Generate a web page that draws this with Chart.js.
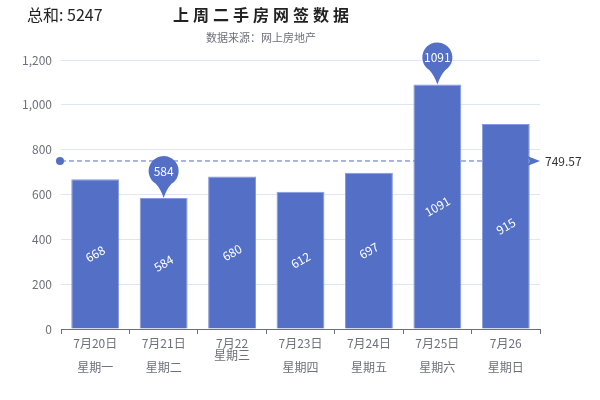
<!DOCTYPE html>
<html>
<head>
<meta charset="utf-8">
<script src="https://cdn.jsdelivr.net/npm/chart.js@4/dist/chart.umd.min.js"></script>
<style>
  html, body { margin: 0; padding: 0; background: #fff; }
  #wrap { width: 600px; height: 400px; }
</style>
</head>
<body>
<div id="wrap"><canvas id="chart"></canvas></div>
<script>
// data
const tickLabels = [
  '7月20日\n\n星期一',
  '7月21日\n\n星期二',
  '7月22\n星期三',
  '7月23日\n\n星期四',
  '7月24日\n\n星期五',
  '7月25日\n\n星期六',
  '7月26\n\n星期日',
];
const deals = [668, 584, 680, 612, 697, 1091, 915];
const yTicks = [0, 200, 400, 600, 800, 1000, 1200];

const FONT = '"Noto Sans CJK SC", "Noto Sans", sans-serif';
const BLUE = '#5470c6';

const total = deals.reduce((a, b) => a + b, 0);
const average = total / deals.length;

// titles, pins and the average line
const extras = {
  id: 'extras',
  beforeDatasetsDraw(chart) {
    const { ctx, chartArea } = chart;
    const y = chart.scales.y.getPixelForValue(average);
    ctx.save();
    ctx.strokeStyle = BLUE;
    ctx.lineWidth = 1;
    ctx.setLineDash([5, 3]);
    ctx.beginPath();
    ctx.moveTo(chartArea.left, y);
    ctx.lineTo(chartArea.right - 10, y);
    ctx.stroke();
    ctx.restore();
  },
  afterDatasetsDraw(chart) {
    const { ctx, chartArea } = chart;
    const meta = chart.getDatasetMeta(0);

    // rotated value labels inside bars
    ctx.save();
    ctx.fillStyle = '#fff';
    ctx.font = '12px ' + FONT;
    ctx.textAlign = 'center';
    ctx.textBaseline = 'middle';
    meta.data.forEach((bar, i) => {
      const cy = (bar.y + bar.base) / 2;
      ctx.save();
      ctx.translate(bar.x, cy);
      ctx.rotate(-Math.PI / 6);
      ctx.fillText(String(deals[i]), 0, 0);
      ctx.restore();
    });
    ctx.restore();

    // max / min pins
    const maxIdx = deals.indexOf(Math.max(...deals));
    const minIdx = deals.indexOf(Math.min(...deals));
    [maxIdx, minIdx].forEach((i) => {
      const bar = meta.data[i];
      const x = bar.x, tip = bar.y;
      const r = 15, cy = tip - 27;
      const a = 0.55;
      ctx.save();
      ctx.fillStyle = BLUE;
      ctx.beginPath();
      ctx.arc(x, cy, r, Math.PI / 2 + a, Math.PI / 2 - a + Math.PI * 2, false);
      ctx.quadraticCurveTo(x + 3, cy + r + 3, x, tip);
      ctx.quadraticCurveTo(x - 3, cy + r + 3, x - r * Math.sin(a), cy + r * Math.cos(a));
      ctx.closePath();
      ctx.fill();
      ctx.fillStyle = '#fff';
      ctx.font = '12px ' + FONT;
      ctx.textAlign = 'center';
      ctx.textBaseline = 'middle';
      ctx.fillText(String(deals[i]), x, cy);
      ctx.restore();
    });

    // average line ends
    const y = chart.scales.y.getPixelForValue(average);
    ctx.save();
    ctx.fillStyle = BLUE;
    ctx.beginPath();
    ctx.arc(chartArea.left - 1, y, 4, 0, Math.PI * 2);
    ctx.fill();
    ctx.beginPath();
    ctx.moveTo(chartArea.right - 13, y - 5);
    ctx.lineTo(chartArea.right, y);
    ctx.lineTo(chartArea.right - 13, y + 5);
    ctx.lineTo(chartArea.right - 10, y);
    ctx.closePath();
    ctx.fill();
    ctx.fillStyle = '#333';
    ctx.font = '12px ' + FONT;
    ctx.textAlign = 'left';
    ctx.textBaseline = 'middle';
    ctx.fillText(average.toFixed(2), chartArea.right + 5, y);
    ctx.restore();
  },
  afterDraw(chart) {
    const { ctx } = chart;
    ctx.save();
    ctx.textBaseline = 'middle';
    ctx.fillStyle = '#222';
    ctx.font = '16px ' + FONT;
    ctx.textAlign = 'left';
    ctx.fillText('总和: ' + total, 27, 15);

    ctx.font = 'bold 16px ' + FONT;
    ctx.textAlign = 'center';
    ctx.letterSpacing = '4px';
    ctx.fillText('上周二手房网签数据', 263, 15);

    ctx.letterSpacing = '0px';
    ctx.fillStyle = '#6e7079';
    ctx.font = '11px ' + FONT;
    ctx.fillText('数据来源：网上房地产', 261, 38);
    ctx.restore();
  },
};

new Chart(document.getElementById('chart'), {
  type: 'bar',
  data: {
    labels: tickLabels.map((t) => t.split('\n')),
    datasets: [{
      data: deals,
      backgroundColor: BLUE,
      borderColor: '#8799dc',
      borderWidth: 1,
      categoryPercentage: 1,
      barPercentage: 0.7,
    }],
  },
  options: {
    responsive: true,
    maintainAspectRatio: false,
    animation: false,
    layout: { padding: { top: 60, right: 60, left: 0, bottom: 0 } },
    plugins: {
      legend: { display: false },
      tooltip: { enabled: false },
    },
    scales: {
      x: {
        grid: { display: true, drawOnChartArea: false, drawTicks: true, tickLength: 5, offset: true, color: '#6e7079' },
        border: { display: true, color: '#6e7079' },
        ticks: { color: '#6e7079', font: { family: FONT, size: 12, lineHeight: 1 }, padding: 3, maxRotation: 0, autoSkip: false },
        afterFit(scale) { scale.height = 71; },
      },
      y: {
        min: 0,
        max: 1200,
        afterBuildTicks(scale) { scale.ticks = yTicks.map((v) => ({ value: v })); },
        grid: { color: '#e0e6f1', drawTicks: false },
        border: { display: false },
        ticks: {
          color: '#6e7079',
          font: { family: FONT, size: 12 },
          padding: 9,
          callback: (v) => v.toLocaleString('en-US'),
        },
        afterFit(scale) { scale.width = 61; },
      },
    },
  },
  plugins: [extras],
});
</script>
</body>
</html>
